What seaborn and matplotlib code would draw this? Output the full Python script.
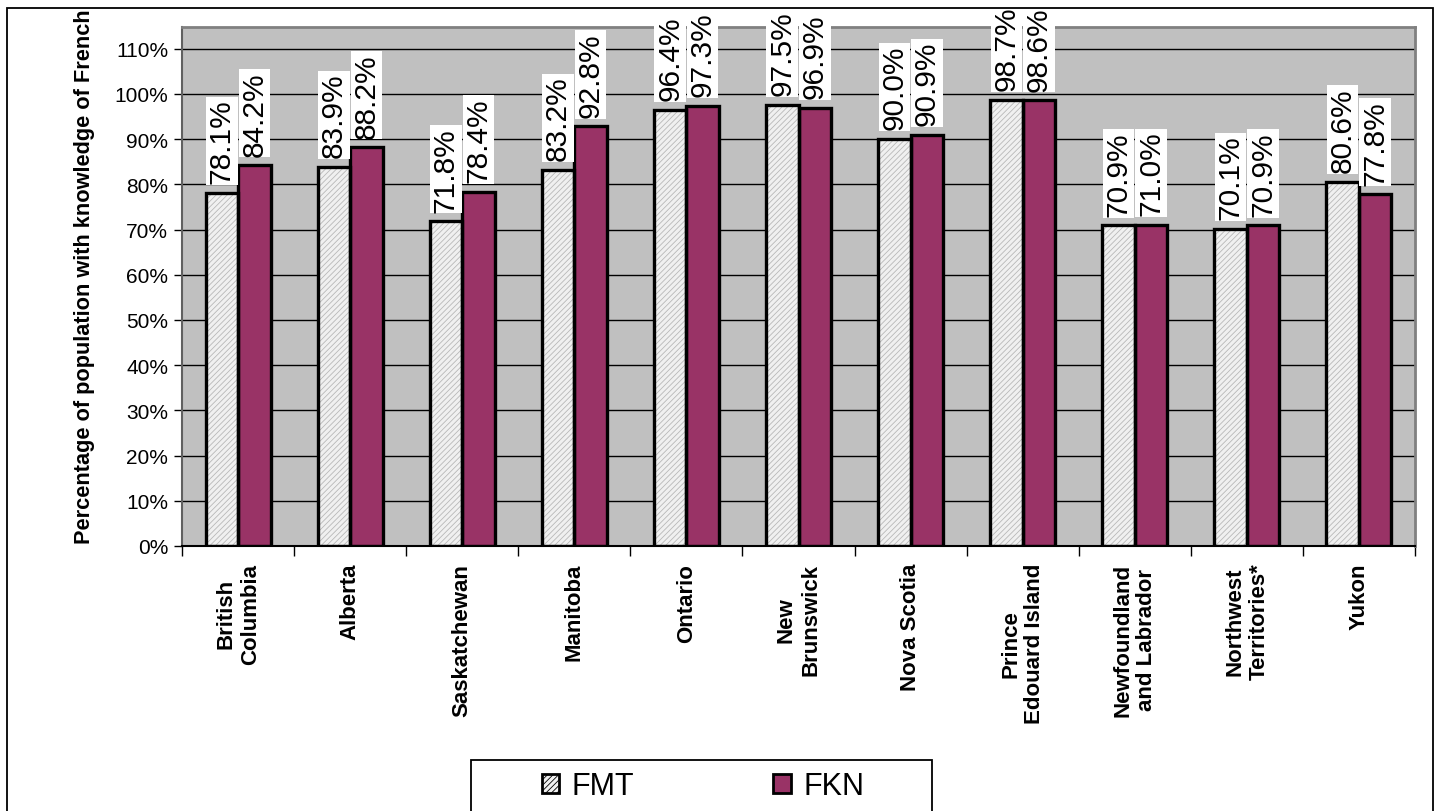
import matplotlib
matplotlib.use("Agg")
import matplotlib.pyplot as plt
from matplotlib.patches import Rectangle, Patch
from matplotlib.ticker import FuncFormatter, FixedLocator
import seaborn as sns
import pandas as pd
import numpy as np

provinces = ["British\nColumbia", "Alberta", "Saskatchewan", "Manitoba", "Ontario",
             "New\nBrunswick", "Nova Scotia", "Prince\nEdouard Island",
             "Newfoundland\nand Labrador", "Northwest\nTerritories*", "Yukon"]
fmt_values = [78.1, 83.9, 71.8, 83.2, 96.4, 97.5, 90.0, 98.7, 70.9, 70.1, 80.6]
fkn_values = [84.2, 88.2, 78.4, 92.8, 97.3, 96.9, 90.9, 98.6, 71.0, 70.9, 77.8]
series = ["FMT", "FKN"]
yticks = list(range(0, 111, 10))

sns.set_theme(style="white")
plt.rcParams['font.family'] = ['Liberation Sans', 'DejaVu Sans']
plt.rcParams['hatch.linewidth'] = 0.6
plt.rcParams['text.color'] = 'black'
plt.rcParams['axes.labelcolor'] = 'black'
plt.rcParams['xtick.color'] = 'black'
plt.rcParams['ytick.color'] = 'black'

df = pd.DataFrame({
    "province": provinces * 2,
    "value": fmt_values + fkn_values,
    "series": [series[0]] * len(provinces) + [series[1]] * len(provinces),
})

fig = plt.figure(figsize=(14.38, 8.12), dpi=100)
ax = fig.add_axes([182/1438, 1 - 547/812, (1415-182)/1438, (547-28)/812])
ax.set_facecolor("#c0c0c0")
ax.set_axisbelow(True)
ax.yaxis.grid(True, color="black", linewidth=1)

sns.barplot(data=df, x="province", y="value", hue="series",
            palette={"FMT": "#f0f0f0", "FKN": "#993366"},
            width=0.58, gap=0, ax=ax, edgecolor="black", linewidth=2.4,
            saturation=1, legend=False)

# hatch FMT bars
fmt_container = ax.containers[0]
for p in fmt_container.patches:
    p.set_hatch("//////")
    p.set_edgecolor("#b8b8b8")
    p.set_linewidth(0)
    outline = Rectangle(p.get_xy(), p.get_width(), p.get_height(),
                        fill=False, edgecolor="black", linewidth=2.4, zorder=p.get_zorder() + 0.1)
    ax.add_patch(outline)

for cont in ax.containers:
    for p in cont.patches:
        h = p.get_height()
        ax.annotate(f"{h:.1f}%", (p.get_x() + p.get_width() / 2, h),
                    xytext=(0, 7), textcoords="offset points",
                    rotation=90, ha="center", va="bottom", fontsize=21.5,
                    bbox=dict(boxstyle="square,pad=0.06", facecolor="white", edgecolor="none"),
                    zorder=5)

ax.set_ylim(0, 114.8)
ax.set_xlim(-0.5, len(provinces) - 0.5)
ax.set_yticks(yticks)
ax.yaxis.set_major_formatter(FuncFormatter(lambda v, _: f"{v:.0f}%"))
ax.tick_params(axis="y", labelsize=15, length=6, width=1, color="black", left=True,
               direction="out", pad=4, labelcolor="black")

ax.set_xticks(range(len(provinces)))
ax.set_xticklabels(provinces, rotation=90, fontsize=16, fontweight="bold",
                   va="top", ha="center", multialignment="center", color="black")
ax.tick_params(axis="x", length=0, pad=12)
ax.xaxis.set_minor_locator(FixedLocator(np.arange(-0.5, len(provinces), 1.0)))
ax.tick_params(axis="x", which="minor", length=7, width=1, color="black", bottom=True, direction="out")

ax.set_xlabel("")
ax.set_ylabel("Percentage of population with knowledge of French", fontsize=15.7,
              fontweight="bold", color="black")
ax.yaxis.set_label_coords((95 - 182) / 1233, (547 - 277) / 519)

for s in ["top", "right"]:
    ax.spines[s].set_color("#808080")
    ax.spines[s].set_linewidth(2)
ax.spines["left"].set_color("#606060")
ax.spines["left"].set_linewidth(1.5)
ax.spines["bottom"].set_color("black")
ax.spines["bottom"].set_linewidth(1.5)

# legend
handles = [Patch(facecolor="#f0f0f0", edgecolor="black", hatch="//////", linewidth=2),
           Patch(facecolor="#993366", edgecolor="black", linewidth=2)]
leg = fig.legend(handles, series, loc="center", bbox_to_anchor=(703/1438, 1 - 787/812),
                 ncol=2, fontsize=22, frameon=False,
                 handlelength=0.58, handleheight=0.58, handletextpad=0.4,
                 columnspacing=4.55, borderpad=0.2, borderaxespad=0)
fig.add_artist(Rectangle((471/1438, -0.05), (932-471)/1438, (812-761)/812 + 0.05,
                         transform=fig.transFigure, fill=False, edgecolor="black", linewidth=1.3))

# outer chart border (bottom edge lies outside the image as in the reference)
fig.add_artist(Rectangle((7/1438, -0.05), (1433-7)/1438, (812-9)/812 + 0.05,
                         transform=fig.transFigure, fill=False, edgecolor="black", linewidth=1.3))

fig.savefig("out.png", dpi=100)
